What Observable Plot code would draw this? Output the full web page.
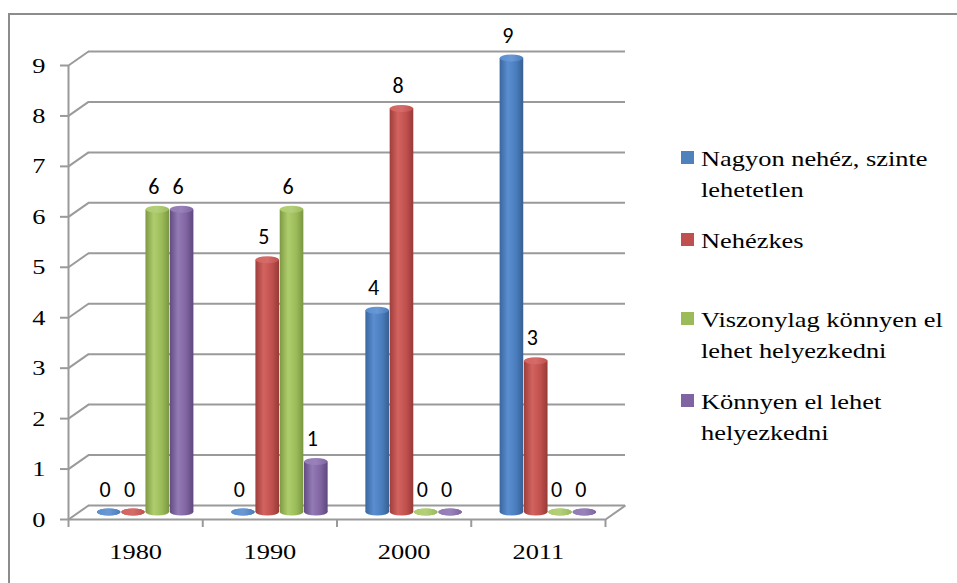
<!DOCTYPE html>
<html><head><meta charset="utf-8">
<script src="https://cdn.jsdelivr.net/npm/d3@7"></script>
<script src="https://cdn.jsdelivr.net/npm/@observablehq/plot@0.6"></script>
<style>
body{margin:0;width:957px;height:583px;overflow:hidden;background:#fff;position:relative}
#frame{position:absolute;left:8px;top:13px;width:1000px;height:700px;border-left:2px solid #8c8c8c;border-top:2px solid #8c8c8c}
#chart{position:absolute;left:0;top:0}
#legend{position:absolute;left:0;top:0;font-family:"Liberation Serif","Times New Roman",serif;font-size:22px;line-height:31px;color:#000}
.entry{position:absolute;left:701px;white-space:nowrap}
.entry span{display:inline-block;transform:scaleX(1.2);transform-origin:0 50%}
.sw{position:absolute;left:-20px;top:8px;width:13px;height:13px}
</style></head>
<body>
<div id="frame"></div>
<div id="chart"></div>
<div id="legend"></div>
<script>
const years = ["1980", "1990", "2000", "2011"];
const seriesNames = ["Nagyon nehéz, szinte lehetetlen", "Nehézkes", "Viszonylag könnyen el lehet helyezkedni", "Könnyen el lehet helyezkedni"];
const legendLines = [["Nagyon nehéz, szinte", "lehetetlen"], ["Nehézkes"], ["Viszonylag könnyen el", "lehet helyezkedni"], ["Könnyen el lehet", "helyezkedni"]];
const nagyonNehez = [0, 0, 4, 9];
const nehezkes = [0, 5, 8, 3];
const viszonylagKonnyen = [6, 6, 0, 0];
const konnyen = [6, 1, 0, 0];
const yTicks = [0, 1, 2, 3, 4, 5, 6, 7, 8, 9];
const colors = ["#4F81BD", "#C0504D", "#9BBB59", "#8064A2"];

const seriesValues = [nagyonNehez, nehezkes, viszonylagKonnyen, konnyen];
const W = 957, H = 583, ML = 68, MR = 352, MT = 65, MB = 64;
const kx = (W - ML - MR) / years.length, ky = (H - MT - MB) / 9;
const DX = 20, DY = 14;           // depth of the 3D box in pixels
const STEP = 0.181, BW = 0.176;   // bar step and width in band units
const grid = "#9a9a9a";
const SERIF = "'Liberation Serif', 'Times New Roman', serif";
const CAL = "Carlito, Calibri, 'Liberation Sans', sans-serif";
const STRETCH = 1.2;

const rows = [];
years.forEach((yr, i) => seriesNames.forEach((s, k) => {
  const c = i + 0.5 + (k - 1.5) * STEP;
  rows.push({year: yr, series: s, k, value: seriesValues[k][i], c, x1: c - BW / 2, x2: c + BW / 2});
}));

const barMarks = [0, 1, 2, 3].flatMap(k => {
  const d = rows.filter(r => r.k === k);
  return [
    Plot.rect(d, {x1: "x1", x2: "x2", y1: 0, y2: 0, insetTop: -3.5, insetBottom: -3.5, rx: 30, ry: 30, fill: `url(#body${k})`, dx: DX / 2, dy: -DY / 2}),
    Plot.rect(d, {x1: "x1", x2: "x2", y1: 0, y2: "value", fill: `url(#body${k})`, dx: DX / 2, dy: -DY / 2}),
    Plot.rect(d, {x1: "x1", x2: "x2", y1: "value", y2: "value", insetTop: -3.5, insetBottom: -3.5, rx: 30, ry: 30, fill: `url(#top${k})`, dx: DX / 2, dy: -DY / 2})
  ];
});

const svg = Plot.plot({
  width: W, height: H,
  marginLeft: ML, marginRight: MR, marginTop: MT, marginBottom: MB,
  x: {domain: [0, years.length], axis: null},
  y: {domain: [0, 9], axis: null},
  style: {background: "transparent", overflow: "visible"},
  marks: [
    Plot.ruleY(yTicks, {x1: 0, x2: years.length, dx: DX, dy: -DY, stroke: grid, strokeWidth: 2}),
    Plot.link(yTicks, {x1: 0, y1: d => d, x2: DX / kx, y2: d => d + DY / ky, stroke: grid, strokeWidth: 2}),
    Plot.link([0], {x1: years.length, y1: 0, x2: years.length + DX / kx, y2: DY / ky, stroke: grid, strokeWidth: 2}),
    Plot.ruleY([0], {x1: 0, x2: years.length, stroke: grid, strokeWidth: 2}),
    Plot.ruleX([0], {y1: 0, y2: 9, stroke: grid, strokeWidth: 2}),
    Plot.ruleY(yTicks, {x1: 0, x2: 0, insetLeft: -8, stroke: grid, strokeWidth: 2}),
    Plot.ruleX(d3.range(years.length + 1), {y1: 0, y2: 0, insetBottom: -8, stroke: grid, strokeWidth: 2}),
    Plot.text(yTicks, {x: 0, y: d => d, text: d => String(d), textAnchor: "end", dx: -23, fontSize: 22, className: "serif", fill: "#000"}),
    Plot.text(years, {x: (d, i) => i + 0.5, y: 0, dy: 32, text: d => d, fontSize: 22, className: "serif", fill: "#000"}),
    ...barMarks,
    Plot.text(rows, {x: "c", y: "value", text: d => String(d.value), dx: DX / 2 - 4, dy: -DY / 2 - 23, fontSize: 22, className: "cal", fill: "#000"})
  ]
});

const bodyStops = [
  ["#3a669e", "#5a8ed0", "#4a7dbd", "#375f93"],
  ["#9d3e3b", "#d3635f", "#c0504d", "#963a37"],
  ["#7d9a44", "#afcd6c", "#9bbb59", "#7a9642"],
  ["#624a82", "#937bb5", "#8064a2", "#5e477d"]
];
const topFill = ["#6a98d4", "#d46c69", "#b3cf7a", "#9882b9"];
const defs = d3.select(svg).insert("defs", ":first-child");
bodyStops.forEach((st, k) => {
  const g = defs.append("linearGradient").attr("id", `body${k}`).attr("x1", 0).attr("x2", 1).attr("y1", 0).attr("y2", 0);
  [0, 0.35, 0.7, 1].forEach((o, j) => g.append("stop").attr("offset", o).attr("stop-color", st[j]));
  const t = defs.append("linearGradient").attr("id", `top${k}`).attr("x1", 0).attr("x2", 1).attr("y1", 0).attr("y2", 0);
  t.append("stop").attr("offset", 0).attr("stop-color", st[1]);
  t.append("stop").attr("offset", 0.5).attr("stop-color", topFill[k]);
  t.append("stop").attr("offset", 1).attr("stop-color", st[2]);
});
// fonts, and the slight horizontal widening of the serif texts seen in the reference
d3.select(svg).selectAll(".serif").style("font-family", SERIF);
d3.select(svg).selectAll(".cal").style("font-family", CAL);
d3.select(svg).selectAll(".serif text").each(function () {
  const t = this.getAttribute("transform");
  if (t) {
    this.setAttribute("transform", t + ` scale(${STRETCH},1)`);
  } else {
    const x = +this.getAttribute("x") || 0, y = +this.getAttribute("y") || 0;
    this.removeAttribute("x"); this.removeAttribute("y");
    this.setAttribute("transform", `translate(${x},${y}) scale(${STRETCH},1)`);
  }
});
document.getElementById("chart").appendChild(svg);

const tops = [143, 225, 304, 386];
const legend = document.getElementById("legend");
legendLines.forEach((lines, k) => {
  const e = document.createElement("div");
  e.className = "entry";
  e.style.top = tops[k] + "px";
  const sw = document.createElement("div");
  sw.className = "sw";
  sw.style.background = colors[k];
  e.appendChild(sw);
  lines.forEach((l, j) => {
    if (j) e.appendChild(document.createElement("br"));
    const s = document.createElement("span");
    s.textContent = l;
    e.appendChild(s);
  });
  legend.appendChild(e);
});
</script>
</body></html>
